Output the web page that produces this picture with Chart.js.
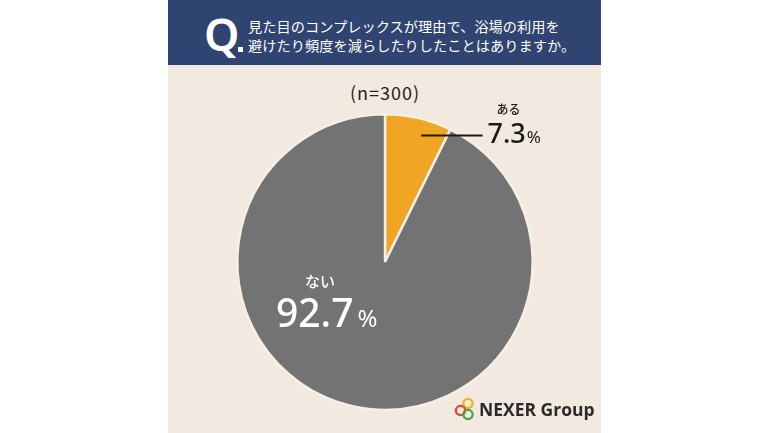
<!DOCTYPE html>
<html>
<head>
<meta charset="utf-8">
<script src="https://cdn.jsdelivr.net/npm/chart.js@4"></script>
<style>
    html, body { margin: 0; padding: 0; background: #ffffff; }
    body { width: 770px; height: 433px; position: relative; overflow: hidden;
           font-family: "Noto Sans CJK JP", "Noto Sans", sans-serif; }
    #panel { position: absolute; left: 168px; top: 0; width: 433px; height: 433px; background: #f2eae1; }
    #header { position: absolute; left: 168px; top: 0; width: 433px; height: 65px; background: #2f4470; }
    #q { position: absolute; left: 204px; top: 4px; color: #fff; font: 600 45px "Noto Sans", sans-serif; line-height: 60px; }
    #qdot { position: absolute; left: 238px; top: 47px; width: 5px; height: 5px; background: #fff; }
    #title { position: absolute; left: 248px; top: 17px; color: #fff; font-size: 14.2px; font-weight: 400; line-height: 19px; letter-spacing: 0.05px; white-space: nowrap; }
    #n { position: absolute; left: 0; width: 770px; top: 79px; text-align: center; color: #222; font-size: 18px; letter-spacing: 1px; }
    #chart-wrap { position: absolute; left: 0; top: 0; width: 770px; height: 433px; }
    #logo { position: absolute; left: 454px; top: 397px; display: flex; align-items: center; }
    #logo span { font: 700 17.5px "Open Sans", "Noto Sans", sans-serif; color: #2a2a2a; margin-left: 1px; letter-spacing: 0px; }
</style>
</head>
<body>
<div id="panel"></div>
<div id="header"></div>
<div id="q">Q</div>
<div id="qdot"></div>
<div id="title">見た目のコンプレックスが理由で、浴場の利用を<br>避けたり頻度を減らしたりしたことはありますか。</div>
<div id="n">(n=300)</div>
<div id="chart-wrap"><canvas id="pie-chart" width="770" height="433"></canvas></div>
<div id="logo">
    <svg width="24" height="24" viewBox="0 0 24 24">
        <circle cx="14" cy="6.5" r="4.6" fill="none" stroke="#f3b21c" stroke-width="2.3"/>
        <circle cx="6.5" cy="13.5" r="4.6" fill="none" stroke="#e8452c" stroke-width="2.3"/>
        <circle cx="14" cy="17.5" r="4.6" fill="none" stroke="#46a546" stroke-width="2.3"/>
    </svg>
    <span>NEXER Group</span>
</div>
<script>
const labels = ['ある', 'ない'];
const values = [7.3, 92.7];
const sliceColors = ['#f0a622', '#737373'];

// draws the two value labels next to their slices
const labelPlugin = {
    id: 'sliceLabels',
    afterDraw(chart) {
        const ctx = chart.ctx;
        const arcs = chart.getDatasetMeta(0).data;

        // "ある" - leader line out of the small slice
        const a = arcs[0];
        const mid = (a.startAngle + a.endAngle) / 2 + 0.05;
        const r = a.outerRadius * 0.89;
        const sx = a.x + Math.cos(mid) * r;
        const sy = a.y + Math.sin(mid) * r;
        const ex = a.x + a.outerRadius * 0.66;
        ctx.save();
        ctx.strokeStyle = '#1a1a1a';
        ctx.lineWidth = 2;
        ctx.beginPath();
        ctx.moveTo(sx, sy);
        ctx.lineTo(ex, sy);
        ctx.stroke();

        const tx = ex + 5;
        ctx.fillStyle = '#1a1a1a';
        ctx.textBaseline = 'alphabetic';
        ctx.font = '500 12px "Noto Sans CJK JP"';
        ctx.textAlign = 'center';
        ctx.fillText(labels[0], tx + 21, sy - 22);
        ctx.textAlign = 'left';
        ctx.font = '500 27px "Noto Sans"';
        const v0 = values[0].toFixed(1);
        ctx.fillText(v0, tx, sy + 7);
        const w0 = ctx.measureText(v0).width;
        ctx.font = '400 17px "Noto Sans"';
        ctx.fillText('%', tx + w0 + 1, sy + 7);

        // "ない" - inside the big slice
        const b = arcs[1];
        const cx = b.x - b.outerRadius * 0.44;
        const cy = b.y + b.outerRadius * 0.17;
        ctx.fillStyle = '#ffffff';
        ctx.font = '500 15px "Noto Sans CJK JP"';
        ctx.textAlign = 'center';
        ctx.fillText(labels[1], cx, cy);
        ctx.textAlign = 'left';
        ctx.font = '500 39px "Noto Sans"';
        const v1 = values[1].toFixed(1);
        const w1 = ctx.measureText(v1).width;
        const left = cx - 44;
        ctx.fillText(v1, left, cy + 40);
        ctx.font = '400 24px "Noto Sans"';
        ctx.fillText('%', left + w1 + 4, cy + 40);
        ctx.restore();
    }
};

new Chart(document.getElementById('pie-chart').getContext('2d'), {
    type: 'pie',
    data: {
        labels: labels,
        datasets: [{
            data: values,
            backgroundColor: sliceColors,
            borderColor: '#f6efe6',
            borderWidth: 2.5
        }]
    },
    options: {
        responsive: false,
        animation: false,
        layout: { padding: { left: 236, right: 236, top: 113, bottom: 22 } },
        plugins: {
            legend: { display: false },
            tooltip: { enabled: false }
        }
    },
    plugins: [labelPlugin]
});
</script>
</body>
</html>
